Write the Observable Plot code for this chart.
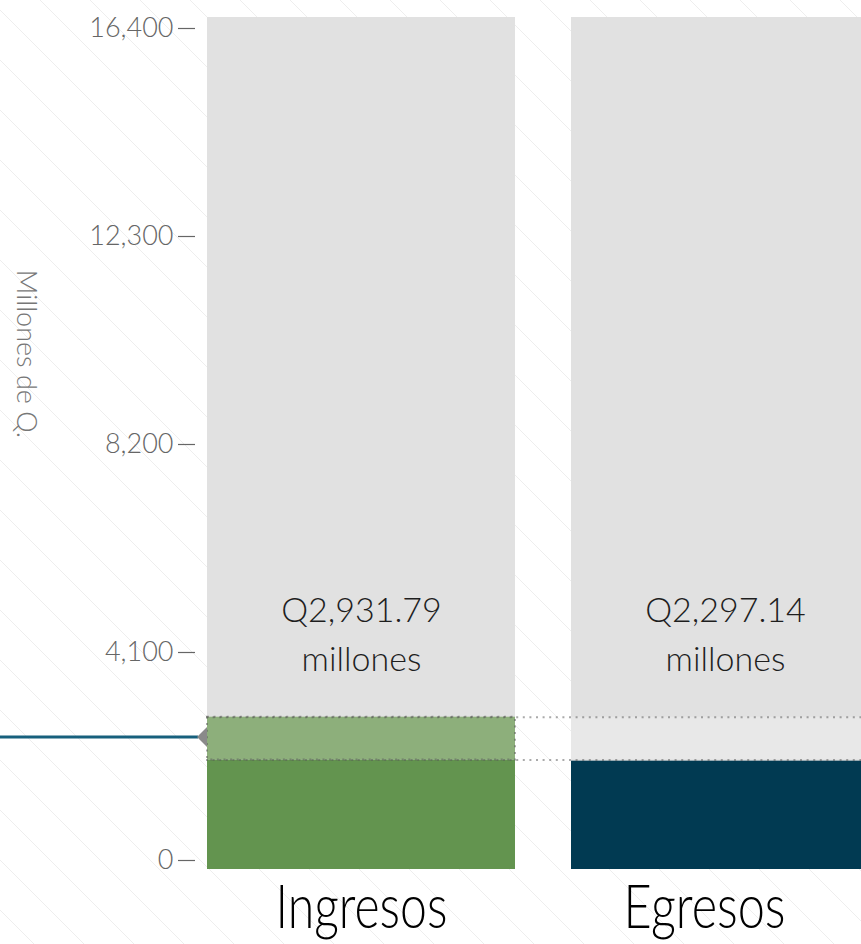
<!DOCTYPE html>
<html><head><meta charset="utf-8">
<script src="https://cdn.jsdelivr.net/npm/d3@7"></script>
<script src="https://cdn.jsdelivr.net/npm/@observablehq/plot@0.6"></script>
<style>
html,body{margin:0;padding:0;background:#fff;overflow:hidden;}
#chart{position:relative;width:861px;height:944px;overflow:hidden;
 background-image:url("data:image/svg+xml,%3Csvg xmlns='http://www.w3.org/2000/svg' width='50' height='50'%3E%3Cpath d='M0 0L50 50M-5 45L5 55M45 -5L55 5' stroke='%23eeeeee' stroke-width='1' fill='none'/%3E%3C/svg%3E");
 background-position:40px 0;}
#chart svg{position:absolute;left:0;top:0;background:transparent;}
#chart svg text{font-family:Lato,"Open Sans",sans-serif;font-weight:300;}
#ytitle{position:absolute;left:27px;top:354px;transform:translate(-50%,-50%);writing-mode:vertical-rl;
 font-family:Lato,"Open Sans",sans-serif;font-weight:300;font-size:27px;color:#777;white-space:nowrap;line-height:1;}
</style></head><body><div id="chart"></div>
<script>
// ---- data ----
const categories = ["Ingresos", "Egresos"];
const fullScale = [16400, 16400];
const ingresosTotal = 2931.79;
const ingresosCovered = 2110;
const egresosValue = 2085;
const labelValues = [2931.79, 2297.14];
const markerValue = 2540;
const yTicks = [0, 4100, 8200, 12300, 16400];
const yTitle = "Millones de Q.";
const unitText = "millones";

const fmt = d3.format(",.2f");
const dotted = {stroke: "#555", strokeOpacity: 0.5, strokeWidth: 2, strokeDasharray: "2,4.6"};

function markerMark(index, scales) {
  const y = scales.y(markerValue);
  const x0 = scales.x(categories[0]);
  const g = d3.create("svg:g");
  g.append("line").attr("x1", 0).attr("x2", x0 - 9).attr("y1", y).attr("y2", y)
    .attr("stroke", "#17607d").attr("stroke-width", 3);
  g.append("path").attr("d", `M${x0 - 10},${y}L${x0},${y - 10}L${x0},${y + 10}Z`).attr("fill", "#8a8a8a");
  return g.node();
}

const bars = Plot.plot({
  width: 861, height: 944,
  marginTop: 17, marginBottom: 75, marginLeft: 206, marginRight: 0,
  x: {type: "band", domain: categories, range: [206, 880], paddingInner: 0.1534, paddingOuter: 0, axis: null},
  y: {domain: [0, 16400], axis: null},
  marks: [
    Plot.barY(categories, {x: d => d, y: (d, i) => fullScale[i], fill: "#e1e1e1"}),
    Plot.barY([categories[1]], {x: d => d, y1: () => ingresosCovered, y2: () => ingresosTotal, fill: "#e8e8e8"}),
    Plot.barY([categories[0]], {x: d => d, y: () => ingresosCovered, fill: "#63944f"}),
    Plot.barY([categories[1]], {x: d => d, y: () => egresosValue, fill: "#013a52"}),
    Plot.barY([categories[0]], {x: d => d, y1: () => ingresosCovered, y2: () => ingresosTotal, fill: "#8daf7b", ...dotted}),
    Plot.ruleY([ingresosTotal, ingresosCovered], {...dotted}),
    markerMark,
    Plot.text(categories, {x: d => d, text: (d, i) => `Q${fmt(labelValues[i])}\n${unitText}`,
      frameAnchor: "bottom", lineAnchor: "bottom", dy: -199, fontSize: 34, lineHeight: 1.44, fill: "#1e1e1e"}),
    Plot.text([categories[0]], {x: d => d, text: d => d, frameAnchor: "bottom", lineAnchor: "bottom", dy: 58, fontSize: 61, fill: "#000"}),
    Plot.text([categories[1]], {x: d => d, text: d => d, frameAnchor: "bottom", lineAnchor: "bottom", dy: 58, dx: -21, fontSize: 61, fill: "#000"})
  ]
});

// condense the large category labels to the reference's narrow face
const labelWidths = {Ingresos: 172, Egresos: 162};
d3.select(bars).selectAll("text").filter(function() { return this.textContent in labelWidths; })
  .attr("textLength", function() { return labelWidths[this.textContent]; })
  .attr("lengthAdjust", "spacingAndGlyphs");

const axis = Plot.plot({
  width: 861, height: 944,
  marginTop: 28, marginBottom: 84, marginLeft: 195, marginRight: 0,
  y: {domain: [0, 16400]},
  marks: [
    Plot.axisY(yTicks, {tickSize: 17, tickPadding: 5, tickFormat: d3.format(","), fontSize: 27, color: "#666", strokeWidth: 1.2, label: null})
  ]
});

const chart = document.getElementById("chart");
chart.appendChild(bars);
chart.appendChild(axis);
const t = document.createElement("div");
t.id = "ytitle";
t.textContent = yTitle;
chart.appendChild(t);
</script>
</body></html>
